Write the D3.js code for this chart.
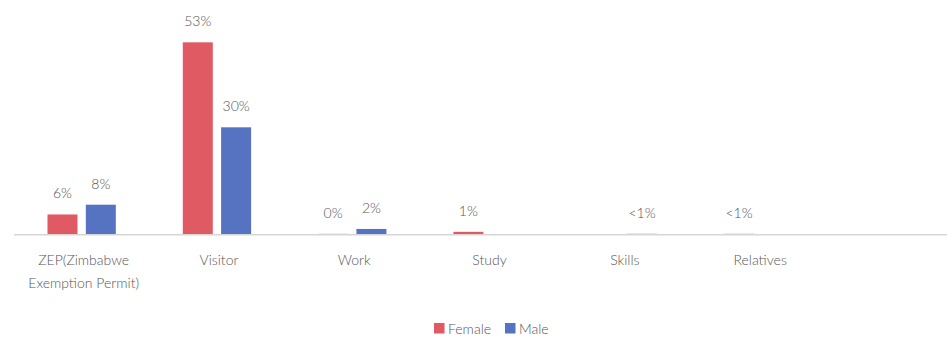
<!DOCTYPE html>
<html>
<head>
<meta charset="utf-8">
<script src="https://cdn.jsdelivr.net/npm/d3@7"></script>
<style>
  html, body { margin: 0; padding: 0; background: #fff; }
  svg { display: block; }
  svg text { font-family: Lato, "Open Sans", sans-serif; font-weight: 300; }
</style>
</head>
<body>
<svg id="chart" width="947" height="337"></svg>
<script>
// Permit categories (each may wrap onto several lines)
const categories = [
  ["ZEP(Zimbabwe", "Exemption Permit)"],
  ["Visitor"],
  ["Work"],
  ["Study"],
  ["Skills"],
  ["Relatives"]
];
const seriesNames = ["Female", "Male"];

// Share of respondents per category, in percent
const femaleValues = [5.4, 53, 0.04, 0.6, 0, 0.05];
const maleValues   = [8.1, 29.5, 1.4, 0, 0.05, 0];

// Printed value labels (null = no label)
const femaleLabels = ["6%", "53%", "0%", "1%", null, "<1%"];
const maleLabels   = ["8%", "30%", "2%", null, "<1%", null];

const colors = { Female: "#e05a63", Male: "#5573c1" };
const textColor = "#555";

const svg = d3.select("#chart");
const W = 947;
const left = 14, step = 135.3;
const baseY = 234;

const catKeys = categories.map(c => c.join(" "));

const x0 = d3.scaleBand()
  .domain(catKeys)
  .range([left, left + step * catKeys.length])
  .paddingInner(0.495)
  .paddingOuter(0.2476);

const x1 = d3.scaleBand()
  .domain(seriesNames)
  .range([0, x0.bandwidth()])
  .paddingInner(0.217)
  .paddingOuter(0);

const y = d3.scaleLinear().domain([0, 60]).range([baseY, 17]);

const rows = catKeys.map((k, i) => ({
  key: k,
  lines: categories[i],
  values: [
    { s: "Female", v: femaleValues[i], label: femaleLabels[i] },
    { s: "Male", v: maleValues[i], label: maleLabels[i] }
  ]
}));

const groups = svg.selectAll("g.cat")
  .data(rows)
  .join("g")
  .attr("class", "cat")
  .attr("transform", d => `translate(${x0(d.key)},0)`);

groups.selectAll("rect")
  .data(d => d.values)
  .join("rect")
  .attr("x", d => x1(d.s))
  .attr("width", x1.bandwidth())
  .attr("y", d => y(d.v))
  .attr("height", d => y(0) - y(d.v))
  .attr("fill", d => colors[d.s]);

groups.selectAll("text.val")
  .data(d => d.values.filter(v => v.label !== null))
  .join("text")
  .attr("class", "val")
  .attr("x", d => x1(d.s) + x1.bandwidth() / 2)
  .attr("y", d => y(d.v) - 16)
  .attr("text-anchor", "middle")
  .attr("font-size", 14)
  .attr("fill", textColor)
  .text(d => d.label);

// Category axis: baseline across the full width, labels centred under each group
svg.append("line")
  .attr("x1", left).attr("x2", W)
  .attr("y1", baseY + 0.75).attr("y2", baseY + 0.75)
  .attr("stroke", "#d6d6d6")
  .attr("stroke-width", 1.5);

const xAxis = d3.axisBottom(x0).tickSize(0).tickFormat(() => "");
const axisG = svg.append("g")
  .attr("transform", `translate(0,${baseY})`)
  .call(xAxis)
  .attr("font-family", null);
axisG.select(".domain").remove();

axisG.selectAll(".tick").each(function(k) {
  const row = rows.find(r => r.key === k);
  const t = d3.select(this).append("text")
    .attr("text-anchor", "middle")
    .attr("font-size", 14)
    .attr("fill", textColor)
    .attr("y", 31);
  row.lines.forEach((ln, i) => {
    t.append("tspan")
      .attr("x", 2)
      .attr("dy", i === 0 ? 0 : 22.5)
      .text(ln);
  });
});

// Legend
const legend = svg.append("g").attr("transform", "translate(434,323)");
const legendX = [0, 71];
seriesNames.forEach((s, i) => {
  const g = legend.append("g").attr("transform", `translate(${legendX[i]},0)`);
  g.append("rect").attr("width", 10.5).attr("height", 10.5).attr("fill", colors[s]);
  g.append("text")
    .attr("x", 14)
    .attr("y", 10.5)
    .attr("font-size", 14)
    .attr("fill", textColor)
    .text(s);
});
</script>
</body>
</html>
